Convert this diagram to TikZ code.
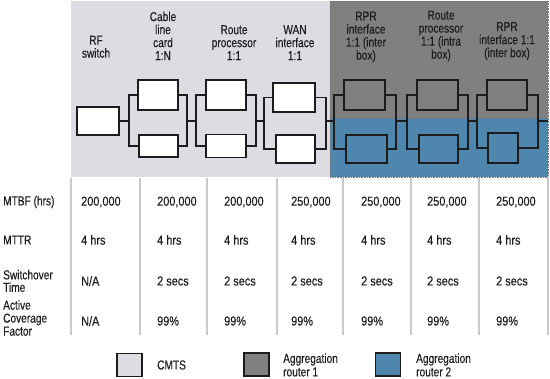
\documentclass[tikz,border=0pt]{standalone}
\usepackage{fontspec}
\setmainfont[FakeStretch=0.78,FakeBold=0.2]{Liberation Sans}
\newfontfamily\valfont[FakeStretch=0.84,FakeBold=0.2]{Liberation Sans}
\definecolor{cmts}{HTML}{DCDCE2}
\definecolor{agg1}{HTML}{808080}
\definecolor{agg2}{HTML}{4F86AE}
\definecolor{sep}{HTML}{C8C8CE}
\definecolor{ink}{HTML}{1C1C1C}
\begin{document}
\begin{tikzpicture}[x=1pt,y=-1pt,
  box/.style={draw=ink, line width=1.3pt, inner sep=0pt},
  wbox/.style={box, fill=white},
  wire/.style={draw=ink, line width=1.3pt},
  hdr/.style={anchor=north, align=center, inner sep=0pt, text=ink, font=\fontsize{13}{13}\selectfont},
  lbl/.style={anchor=west, align=left, inner sep=0pt, text=ink, font=\fontsize{13}{12.5}\selectfont},
  val/.style={anchor=west, inner sep=0pt, text=ink, font=\valfont\fontsize{13}{13}\selectfont},
  legbox/.style={draw=ink, line width=1.3pt, minimum width=25pt, minimum height=23pt, inner sep=0pt},
  regionedge/.style={draw=black!55, densely dotted, line width=0.6pt}
]
\useasboundingbox (0,0) rectangle (550,379);
\fill[white] (0,0) rectangle (550,379);

% regions
\fill[cmts] (71,1) rectangle (330,177);
\fill[agg1] (330,1) rectangle (548,118);
\fill[agg2] (330,118) rectangle (548,177);
\draw[regionedge] (330,1) rectangle (548,118);
\draw[regionedge] (330,118) rectangle (548,177);

% table column separators
\foreach \x in {71,140,207,277,343,411,479,548}
  \draw[sep, line width=1.2pt] (\x,178) -- (\x,335);

% headers
\node[hdr] (h1) at (96,35.5) {RF\\switch};
\node[hdr] (h2) at (163,11.5) {Cable\\line\\card\\1:N};
\node[hdr] (h3) at (234,25) {Route\\processor\\1:1};
\node[hdr] (h4) at (295,25) {WAN\\interface\\1:1};
\node[hdr] (h5) at (366,11.5) {RPR\\interface\\1:1 (inter\\box)};
\node[hdr] (h6) at (441,10.5) {Route\\processor\\1:1 (intra\\box)};
\node[hdr] (h7) at (507,22) {RPR\\interface 1:1\\(inter box)};

% RF switch
\node[wbox, minimum width=42pt, minimum height=28pt] (rf) at (98,121) {};

% group 1: cable line card
\node[wbox, minimum width=40pt, minimum height=30pt] (t1) at (158,95) {};
\node[wbox, minimum width=39pt, minimum height=22pt] (b1) at (158.5,146) {};
% group 2: route processor
\node[wbox, minimum width=40pt, minimum height=30pt] (t2) at (226,95) {};
\node[wbox, minimum width=40pt, minimum height=23pt] (b2) at (226,146) {};
% group 3: WAN
\node[wbox, minimum width=42pt, minimum height=29pt] (t3) at (294,97.5) {};
\node[wbox, minimum width=39pt, minimum height=28pt] (b3) at (295.5,149) {};
% group 4: RPR inter box
\node[box, minimum width=41pt, minimum height=30pt] (t4) at (364.5,95) {};
\node[box, minimum width=41pt, minimum height=28pt] (b4) at (366.5,149) {};
% group 5: route processor intra box
\node[box, minimum width=41pt, minimum height=30pt] (t5) at (437.5,95) {};
\node[box, minimum width=39pt, minimum height=28pt] (b5) at (438.5,149) {};
% group 6: RPR inter box
\node[box, minimum width=40pt, minimum height=30pt] (t6) at (507,95) {};
\node[box, minimum width=30pt, minimum height=30pt] (b6) at (503,148) {};

% bus coordinates
\coordinate (L1) at (129,121); \coordinate (R1) at (187,121);
\coordinate (L2) at (196,121); \coordinate (R2) at (256,121);
\coordinate (L3) at (264,121); \coordinate (R3) at (326,121);
\coordinate (L4) at (334,121); \coordinate (R4) at (396,121);
\coordinate (L5) at (407,121); \coordinate (R5) at (468,121);
\coordinate (L6) at (477,121); \coordinate (R6) at (538,121);
\coordinate (E) at (548,121);

\foreach \i in {1,...,6} {
  \draw[wire] (t\i.west) -| (L\i) |- (b\i.west);
  \draw[wire] (t\i.east) -| (R\i) |- (b\i.east);
}
\draw[wire] (rf.east) -- (L1);
\draw[wire] (R1) -- (L2);
\draw[wire] (R2) -- (L3);
\draw[wire] (R3) -- (L4);
\draw[wire] (R4) -- (L5);
\draw[wire] (R5) -- (L6);
\draw[wire] (R6) -- (E);

% row labels
\node[lbl] (r1) at (3,202) {MTBF (hrs)};
\node[lbl] (r2) at (3,240) {MTTR};
\node[lbl] (r3) at (3,281) {Switchover\\Time};
\node[lbl, font=\fontsize{13}{13}\selectfont] (r4) at (3,318) {Active\\Coverage\\Factor};

% values
\foreach \x/\a/\b/\c/\d [count=\k] in {81/200{,}000/N{/}A/N{/}A/x,
                                    157/200{,}000/2 secs/99\%/x,
                                    224/200{,}000/2 secs/99\%/x,
                                    291/250{,}000/2 secs/99\%/x,
                                    361/250{,}000/2 secs/99\%/x,
                                    427/250{,}000/2 secs/99\%/x,
                                    496/250{,}000/2 secs/99\%/x} {
  \node[val] (m\k) at (\x,202) {\a};
  \node[val] (t\k r) at (\x,240) {4 hrs};
  \node[val] (s\k) at (\x,281) {\b};
  \node[val] (c\k) at (\x,321) {\c};
}

% legend
\node[legbox, fill=cmts] (lg1) at (129.5,365) {};
\node[lbl] (lt1) at (157,365) {CMTS};
\node[legbox, fill=agg1] (lg2) at (256.5,364.5) {};
\node[lbl, font=\fontsize{13}{13.5}\selectfont] (lt2) at (283,365) {Aggregation\\router 1};
\node[legbox, fill=agg2] (lg3) at (388,364.5) {};
\node[lbl, font=\fontsize{13}{13.5}\selectfont] (lt3) at (416,365) {Aggregation\\router 2};
\end{tikzpicture}
\end{document}
